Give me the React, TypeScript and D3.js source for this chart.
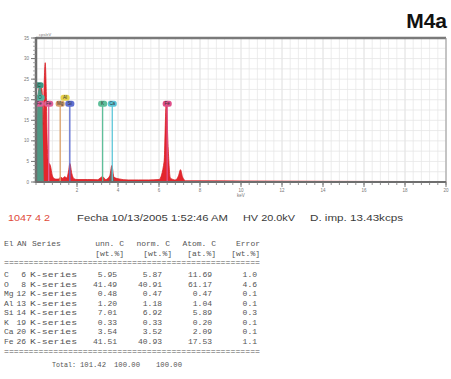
import React from "react";
import * as d3 from "d3";

// ---- data ----
const spectrumKeV = [0, 0.05, 0.1, 0.2, 0.3, 0.35, 0.4, 0.45, 0.5, 0.55, 0.6, 0.7, 0.8, 0.9, 1.0, 1.1, 1.2, 1.3, 1.4, 1.5, 1.6, 1.65, 1.75, 1.85, 2.0, 2.5, 3.0, 3.25, 3.4, 3.6, 3.7, 3.8, 4.0, 4.5, 5.0, 5.5, 6.0, 6.25, 6.35, 6.45, 6.55, 6.8, 6.95, 7.05, 7.15, 7.3, 8, 10, 15, 20];
const spectrumCounts = [0, 2, 20, 24, 22, 14, 24, 29, 22, 9, 5, 4, 1.5, 0.8, 0.7, 0.7, 1.2, 0.9, 1.3, 1.0, 3, 4.5, 2, 0.8, 0.6, 0.6, 0.55, 1.3, 0.6, 1.5, 4, 1.2, 0.8, 0.5, 0.5, 0.5, 0.6, 5, 19, 8, 1, 0.5, 1.5, 3, 1.2, 0.3, 0.3, 0.25, 0.15, 0.1];
const cPeakKeV = [0.02, 0.06, 0.1, 0.2, 0.3, 0.34, 0.38];
const cPeakCounts = [0, 18, 22, 23, 21, 10, 0];
const caPeakKeV = [3.55, 3.62, 3.7, 3.78, 3.85];
const caPeakCounts = [0, 1.5, 3.6, 1.2, 0];

const markerNames = ["C", "O", "Fe", "Fe", "Mg", "Al", "Si", "K", "Ca", "Fe"];
const markerKeV = [0.15, 0.2, 0.15, 0.62, 1.18, 1.42, 1.65, 3.25, 3.72, 6.4];
const markerLevel = [23.5, 20.5, 19, 19, 19, 20.5, 19, 19, 19, 19];
const markerColors = ["#3c9c86", "#4fb8a2", "#e0609a", "#e0609a", "#d9a06a", "#e6d24a", "#5f6fd0", "#5fbf9a", "#5cc6d8", "#e0508a"];
const markerLine = [false, false, false, true, true, false, true, true, true, true];

const yTicks = [0, 5, 10, 15, 20, 25, 30, 35];
const xTicks = [2, 4, 6, 8, 10, 12, 14, 16, 18, 20];

const tableEl = ["C", "O", "Mg", "Al", "Si", "K", "Ca", "Fe"];
const tableAN = ["6", "8", "12", "13", "14", "19", "20", "26"];
const tableUnn = ["5.95", "41.49", "0.48", "1.20", "7.01", "0.33", "3.54", "41.51"];
const tableNorm = ["5.87", "40.91", "0.47", "1.18", "6.92", "0.33", "3.52", "40.93"];
const tableAtom = ["11.69", "61.17", "0.47", "1.04", "5.89", "0.20", "2.09", "17.53"];
const tableErr = ["1.0", "4.6", "0.1", "0.1", "0.3", "0.1", "0.1", "1.1"];

export default function App() {
  const x = d3.scaleLinear().domain([0, 20]).range([36, 446]);
  const y = d3.scaleLinear().domain([0, 35]).range([182, 38]);
  const area = d3
    .area<[number, number]>()
    .x((d) => x(d[0]))
    .y0(y(0))
    .y1((d) => y(d[1]))
    .curve(d3.curveMonotoneX);
  const spec: [number, number][] = spectrumKeV.map((k, i) => [k, spectrumCounts[i]]);
  const cPk: [number, number][] = cPeakKeV.map((k, i) => [k, cPeakCounts[i]]);
  const caPk: [number, number][] = caPeakKeV.map((k, i) => [k, caPeakCounts[i]]);

  const minorX = d3.range(0, 20.001, 0.4);
  const minorY = d3.range(0, 35.001, 1);
  const gridY = d3.range(0, 35.001, 2.5);

  const mono = "'Liberation Mono', 'DejaVu Sans Mono', monospace";
  const sans = "'Liberation Sans', Arial, sans-serif";
  const rowY = [277, 286.5, 296, 305.5, 315, 324.5, 334, 343.5];
  const tc = "#555";

  return (
    <svg width={451} height={379} style={{ position: "absolute", left: 0, top: 0, background: "#fff" }}>
      <rect x={0} y={0} width={451} height={379} fill="#fff" />
      <text x={447} y={28} textAnchor="end" fontFamily={sans} fontWeight="bold" fontSize={21} fill="#111">M4a</text>

      {/* grid */}
      {minorX.map((v, i) => (
        <line key={"gx" + i} x1={x(v)} x2={x(v)} y1={y(35)} y2={y(0)} stroke={i % 5 === 0 ? "#d6d6d6" : "#e8e8e8"} strokeWidth={0.8} />
      ))}
      {gridY.map((v, i) => (
        <line key={"gy" + i} x1={x(0)} x2={x(20)} y1={y(v)} y2={y(v)} stroke="#e6e6e6" strokeWidth={0.8} />
      ))}

      {/* spectrum */}
      <path d={area(spec) || ""} fill="#e3262c" stroke="#d81f26" strokeWidth={0.8} />
      <path d={area(cPk) || ""} fill="#3fa58e" opacity={0.9} />
      <path d={area(caPk) || ""} fill="#6b6256" opacity={0.8} />

      {/* marker lines and labels */}
      {markerNames.map((n, i) => (
        <g key={"m" + i}>
          {markerLine[i] && (
            <line x1={x(markerKeV[i])} x2={x(markerKeV[i])} y1={y(markerLevel[i])} y2={y(0)} stroke={markerColors[i]} strokeWidth={1.3} />
          )}
          <rect x={x(markerKeV[i]) - 4.5} y={y(markerLevel[i]) - 3} width={9} height={6} rx={2.5} fill={markerColors[i]} />
          <text x={x(markerKeV[i])} y={y(markerLevel[i]) + 1.6} textAnchor="middle" fontFamily={sans} fontSize={4.5} fill="#333">{n}</text>
        </g>
      ))}

      {/* frame */}
      <line x1={x(0)} x2={x(20)} y1={y(35)} y2={y(35)} stroke="#7a7a7a" strokeWidth={2.5} />
      <line x1={x(20)} x2={x(20)} y1={y(35)} y2={y(0)} stroke="#9a9a9a" strokeWidth={1} />
      <line x1={x(0)} x2={x(0)} y1={y(35) - 1} y2={y(0) + 1} stroke="#6e6e6e" strokeWidth={2.5} />
      <line x1={x(0)} x2={x(20)} y1={y(0)} y2={y(0)} stroke="#6e6e6e" strokeWidth={2} />
      <text x={x(0) + 3} y={y(35) - 2} fontFamily={sans} fontSize={4} fill="#777">cps/eV</text>

      {/* y axis ticks */}
      {minorY.map((v, i) => (
        <line key={"ym" + i} x1={x(0) - 3} x2={x(0)} y1={y(v)} y2={y(v)} stroke="#888" strokeWidth={0.7} />
      ))}
      {yTicks.map((v) => (
        <g key={"yt" + v}>
          <line x1={x(0) - 5} x2={x(0)} y1={y(v)} y2={y(v)} stroke="#777" strokeWidth={1} />
          <text x={x(0) - 7} y={y(v) + 1.6} textAnchor="end" fontFamily={sans} fontSize={4.5} fill="#777">{v}</text>
        </g>
      ))}

      {/* x axis ticks */}
      {minorX.map((v, i) => (
        <line key={"xm" + i} x1={x(v)} x2={x(v)} y1={y(0)} y2={y(0) + 3} stroke="#777" strokeWidth={0.8} />
      ))}
      {xTicks.map((v) => (
        <g key={"xt" + v}>
          <line x1={x(v)} x2={x(v)} y1={y(0)} y2={y(0) + 5} stroke="#777" strokeWidth={1} />
          <text x={x(v)} y={y(0) + 10} textAnchor="middle" fontFamily={sans} fontSize={4.5} fill="#777">{v}</text>
        </g>
      ))}
      <text x={x(10)} y={y(0) + 15} textAnchor="middle" fontFamily={sans} fontSize={4.5} fill="#777">keV</text>

      {/* info line */}
      <text x={8} y={221} fontFamily={sans} fontSize={9.5} fill="#e04a3a" textLength={42} lengthAdjust="spacingAndGlyphs">1047 4 2</text>
      <text x={77} y={221} fontFamily={sans} fontSize={9.5} fill="#3a3a3a" textLength={151} lengthAdjust="spacingAndGlyphs">Fecha 10/13/2005 1:52:46 AM</text>
      <text x={243} y={221} fontFamily={sans} fontSize={9.5} fill="#3a3a3a" textLength={52} lengthAdjust="spacingAndGlyphs">HV 20.0kV</text>
      <text x={310} y={221} fontFamily={sans} fontSize={9.5} fill="#3a3a3a" textLength={93} lengthAdjust="spacingAndGlyphs">D. imp. 13.43kcps</text>

      {/* table */}
      <g fontFamily={mono} fontSize={8} fill={tc}>
        <text x={4} y={246}>El</text>
        <text x={17} y={246}>AN</text>
        <text x={32} y={246}>Series</text>
        <text x={124} y={246} textAnchor="end">unn. C</text>
        <text x={170} y={246} textAnchor="end">norm. C</text>
        <text x={216} y={246} textAnchor="end">Atom. C</text>
        <text x={260} y={246} textAnchor="end">Error</text>
        <text x={124} y={255.5} textAnchor="end">[wt.%]</text>
        <text x={172} y={255.5} textAnchor="end">[wt.%]</text>
        <text x={216} y={255.5} textAnchor="end">[at.%]</text>
        <text x={260} y={255.5} textAnchor="end">[wt.%]</text>
        <text x={4} y={265} textLength={256} lengthAdjust="spacingAndGlyphs">{"=".repeat(52)}</text>
        {tableEl.map((el, i) => (
          <g key={"r" + i}>
            <text x={4} y={rowY[i]}>{el}</text>
            <text x={26} y={rowY[i]} textAnchor="end">{tableAN[i]}</text>
            <text x={30} y={rowY[i]} textLength={47} lengthAdjust="spacingAndGlyphs">K-series</text>
            <text x={117} y={rowY[i]} textAnchor="end">{tableUnn[i]}</text>
            <text x={162} y={rowY[i]} textAnchor="end">{tableNorm[i]}</text>
            <text x={212} y={rowY[i]} textAnchor="end">{tableAtom[i]}</text>
            <text x={257} y={rowY[i]} textAnchor="end">{tableErr[i]}</text>
          </g>
        ))}
        <text x={4} y={354} textLength={256} lengthAdjust="spacingAndGlyphs">{"=".repeat(52)}</text>
        <text x={52} y={367} textLength={24} lengthAdjust="spacingAndGlyphs">Total:</text>
        <text x={80} y={367} textLength={26} lengthAdjust="spacingAndGlyphs">101.42</text>
        <text x={114} y={367} textLength={26} lengthAdjust="spacingAndGlyphs">100.00</text>
        <text x={156} y={367} textLength={26} lengthAdjust="spacingAndGlyphs">100.00</text>
      </g>
    </svg>
  );
}
